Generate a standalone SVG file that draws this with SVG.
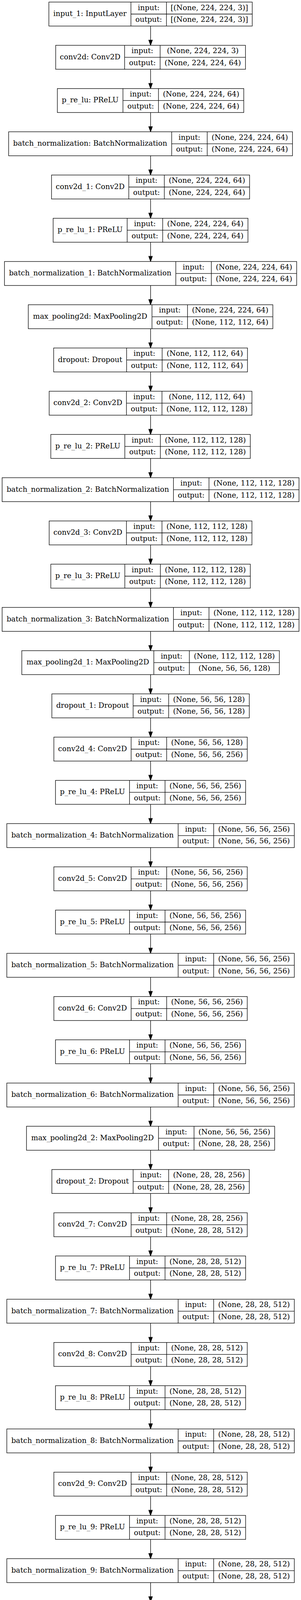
<svg xmlns="http://www.w3.org/2000/svg" width="771" height="6603" viewBox="0 0 771 6603">
<style>
.b{fill:#fff;stroke:#000;stroke-width:1.33}
.d{fill:none;stroke:#000;stroke-width:1.33}
.e{fill:none;stroke:#000;stroke-width:1.33}
text{font-family:"DejaVu Serif",serif;font-size:18.67px;text-anchor:middle;fill:#000}
</style>
<defs>
<marker id="ah" markerUnits="userSpaceOnUse" markerWidth="15" markerHeight="12" refX="0" refY="0" orient="auto" overflow="visible"><path d="M0,-4.67L13.33,0L0,4.67z" fill="#000" stroke="#000" stroke-width="1.33"/></marker>
</defs>
<rect width="771" height="6603" fill="#fff"/>
<g id="edges">
<path class="e" marker-end="url(#ah)" d="M385.67,66.66V102.69"/>
<path class="e" marker-end="url(#ah)" d="M385.67,177.35V213.38"/>
<path class="e" marker-end="url(#ah)" d="M385.67,288.04V324.07"/>
<path class="e" marker-end="url(#ah)" d="M385.67,398.73V434.76"/>
<path class="e" marker-end="url(#ah)" d="M385.67,509.42V545.45"/>
<path class="e" marker-end="url(#ah)" d="M385.67,620.11V656.14"/>
<path class="e" marker-end="url(#ah)" d="M385.67,730.8V766.83"/>
<path class="e" marker-end="url(#ah)" d="M385.67,841.49V877.52"/>
<path class="e" marker-end="url(#ah)" d="M385.67,952.18V988.21"/>
<path class="e" marker-end="url(#ah)" d="M385.67,1062.87V1098.9"/>
<path class="e" marker-end="url(#ah)" d="M385.67,1173.56V1209.59"/>
<path class="e" marker-end="url(#ah)" d="M385.67,1284.25V1320.28"/>
<path class="e" marker-end="url(#ah)" d="M385.67,1394.94V1430.97"/>
<path class="e" marker-end="url(#ah)" d="M385.67,1505.63V1541.66"/>
<path class="e" marker-end="url(#ah)" d="M385.67,1616.32V1652.35"/>
<path class="e" marker-end="url(#ah)" d="M385.67,1727.01V1763.04"/>
<path class="e" marker-end="url(#ah)" d="M385.67,1837.7V1873.73"/>
<path class="e" marker-end="url(#ah)" d="M385.67,1948.39V1984.42"/>
<path class="e" marker-end="url(#ah)" d="M385.67,2059.08V2095.11"/>
<path class="e" marker-end="url(#ah)" d="M385.67,2169.77V2205.8"/>
<path class="e" marker-end="url(#ah)" d="M385.67,2280.46V2316.49"/>
<path class="e" marker-end="url(#ah)" d="M385.67,2391.15V2427.18"/>
<path class="e" marker-end="url(#ah)" d="M385.67,2501.84V2537.87"/>
<path class="e" marker-end="url(#ah)" d="M385.67,2612.53V2648.56"/>
<path class="e" marker-end="url(#ah)" d="M385.67,2723.22V2759.25"/>
<path class="e" marker-end="url(#ah)" d="M385.67,2833.91V2869.94"/>
<path class="e" marker-end="url(#ah)" d="M385.67,2944.6V2980.63"/>
<path class="e" marker-end="url(#ah)" d="M385.67,3055.29V3091.32"/>
<path class="e" marker-end="url(#ah)" d="M385.67,3165.98V3202.01"/>
<path class="e" marker-end="url(#ah)" d="M385.67,3276.67V3312.7"/>
<path class="e" marker-end="url(#ah)" d="M385.67,3387.36V3423.39"/>
<path class="e" marker-end="url(#ah)" d="M385.67,3498.05V3534.08"/>
<path class="e" marker-end="url(#ah)" d="M385.67,3608.74V3644.77"/>
<path class="e" marker-end="url(#ah)" d="M385.67,3719.43V3755.46"/>
<path class="e" marker-end="url(#ah)" d="M385.67,3830.12V3866.15"/>
<path class="e" marker-end="url(#ah)" d="M385.67,3940.81V3976.84"/>
<path class="e" marker-end="url(#ah)" d="M385.67,4051.5V4087.53"/>
<path class="e" marker-end="url(#ah)" d="M385.67,4162.19V4198.22"/>
<path class="e" marker-end="url(#ah)" d="M385.67,4272.88V4308.91"/>
<path class="e" marker-end="url(#ah)" d="M385.67,4383.57V4419.6"/>
<path class="e" marker-end="url(#ah)" d="M385.67,4494.26V4530.29"/>
<path class="e" marker-end="url(#ah)" d="M385.67,4604.95V4640.98"/>
<path class="e" marker-end="url(#ah)" d="M385.67,4715.64V4751.67"/>
<path class="e" marker-end="url(#ah)" d="M385.67,4826.33V4862.36"/>
<path class="e" marker-end="url(#ah)" d="M385.67,4937.02V4973.05"/>
<path class="e" marker-end="url(#ah)" d="M385.67,5047.71V5083.74"/>
<path class="e" marker-end="url(#ah)" d="M385.67,5158.4V5194.43"/>
<path class="e" marker-end="url(#ah)" d="M385.67,5269.09V5305.12"/>
<path class="e" marker-end="url(#ah)" d="M385.67,5379.78V5415.81"/>
<path class="e" marker-end="url(#ah)" d="M385.67,5490.47V5526.5"/>
<path class="e" marker-end="url(#ah)" d="M385.67,5601.16V5637.19"/>
<path class="e" marker-end="url(#ah)" d="M385.67,5711.85V5747.88"/>
<path class="e" marker-end="url(#ah)" d="M385.67,5822.54V5858.57"/>
<path class="e" marker-end="url(#ah)" d="M385.67,5933.23V5969.26"/>
<path class="e" marker-end="url(#ah)" d="M385.67,6043.92V6079.95"/>
<path class="e" marker-end="url(#ah)" d="M385.67,6154.61V6190.64"/>
<path class="e" marker-end="url(#ah)" d="M385.67,6265.3V6301.33"/>
<path class="e" marker-end="url(#ah)" d="M385.67,6375.99V6412.02"/>
<path class="e" marker-end="url(#ah)" d="M385.67,6486.68V6522.71"/>
</g>

<g id="input_1" transform="translate(0,5.33)"><rect class="b" x="125.22" y="0" width="520.9" height="61.33"/><path class="d" d="M335.42,0V61.33M426.42,0V61.33M335.42,30.67H646.12"/><text x="230.32" y="35.7">input_1: InputLayer</text><text x="380.92" y="20.3">input:</text><text x="380.92" y="51">output:</text><text x="536.27" y="20.3">[(None, 224, 224, 3)]</text><text x="536.27" y="51">[(None, 224, 224, 3)]</text></g>

<g id="conv2d" transform="translate(0,116.02)"><rect class="b" x="142.62" y="0" width="486.1" height="61.33"/><path class="d" d="M319.22,0V61.33M410.22,0V61.33M319.22,30.67H628.72"/><text x="230.92" y="35.7">conv2d: Conv2D</text><text x="364.72" y="20.3">input:</text><text x="364.72" y="51">output:</text><text x="519.47" y="20.3">(None, 224, 224, 3)</text><text x="519.47" y="51">(None, 224, 224, 64)</text></g>

<g id="p_re_lu" transform="translate(0,226.71)"><rect class="b" x="146.92" y="0" width="477.5" height="61.33"/><path class="d" d="M314.92,0V61.33M405.92,0V61.33M314.92,30.67H624.42"/><text x="230.92" y="35.7">p_re_lu: PReLU</text><text x="360.42" y="20.3">input:</text><text x="360.42" y="51">output:</text><text x="515.17" y="20.3">(None, 224, 224, 64)</text><text x="515.17" y="51">(None, 224, 224, 64)</text></g>

<g id="batch_normalization" transform="translate(0,337.4)"><rect class="b" x="22.12" y="0" width="727.1" height="61.33"/><path class="d" d="M439.72,0V61.33M530.72,0V61.33M439.72,30.67H749.22"/><text x="230.92" y="35.7">batch_normalization: BatchNormalization</text><text x="485.22" y="20.3">input:</text><text x="485.22" y="51">output:</text><text x="639.97" y="20.3">(None, 224, 224, 64)</text><text x="639.97" y="51">(None, 224, 224, 64)</text></g>

<g id="conv2d_1" transform="translate(0,448.09)"><rect class="b" x="131.97" y="0" width="507.4" height="61.33"/><path class="d" d="M329.87,0V61.33M420.87,0V61.33M329.87,30.67H639.37"/><text x="230.92" y="35.7">conv2d_1: Conv2D</text><text x="375.37" y="20.3">input:</text><text x="375.37" y="51">output:</text><text x="530.12" y="20.3">(None, 224, 224, 64)</text><text x="530.12" y="51">(None, 224, 224, 64)</text></g>

<g id="p_re_lu_1" transform="translate(0,558.78)"><rect class="b" x="136.17" y="0" width="499" height="61.33"/><path class="d" d="M325.67,0V61.33M416.67,0V61.33M325.67,30.67H635.17"/><text x="230.92" y="35.7">p_re_lu_1: PReLU</text><text x="371.17" y="20.3">input:</text><text x="371.17" y="51">output:</text><text x="525.92" y="20.3">(None, 224, 224, 64)</text><text x="525.92" y="51">(None, 224, 224, 64)</text></g>

<g id="batch_normalization_1" transform="translate(0,669.47)"><rect class="b" x="11.47" y="0" width="748.4" height="61.33"/><path class="d" d="M450.37,0V61.33M541.37,0V61.33M450.37,30.67H759.87"/><text x="230.92" y="35.7">batch_normalization_1: BatchNormalization</text><text x="495.87" y="20.3">input:</text><text x="495.87" y="51">output:</text><text x="650.62" y="20.3">(None, 224, 224, 64)</text><text x="650.62" y="51">(None, 224, 224, 64)</text></g>

<g id="max_pooling2d" transform="translate(0,780.16)"><rect class="b" x="72.47" y="0" width="626.4" height="61.33"/><path class="d" d="M389.37,0V61.33M480.37,0V61.33M389.37,30.67H698.87"/><text x="230.92" y="35.7">max_pooling2d: MaxPooling2D</text><text x="434.87" y="20.3">input:</text><text x="434.87" y="51">output:</text><text x="589.62" y="20.3">(None, 224, 224, 64)</text><text x="589.62" y="51">(None, 112, 112, 64)</text></g>

<g id="dropout" transform="translate(0,890.85)"><rect class="b" x="137.47" y="0" width="496.4" height="61.33"/><path class="d" d="M324.37,0V61.33M415.37,0V61.33M324.37,30.67H633.87"/><text x="230.92" y="35.7">dropout: Dropout</text><text x="369.87" y="20.3">input:</text><text x="369.87" y="51">output:</text><text x="524.62" y="20.3">(None, 112, 112, 64)</text><text x="524.62" y="51">(None, 112, 112, 64)</text></g>

<g id="conv2d_2" transform="translate(0,1001.54)"><rect class="b" x="125.97" y="0" width="519.4" height="61.33"/><path class="d" d="M323.87,0V61.33M414.87,0V61.33M323.87,30.67H645.37"/><text x="224.92" y="35.7">conv2d_2: Conv2D</text><text x="369.37" y="20.3">input:</text><text x="369.37" y="51">output:</text><text x="530.12" y="20.3">(None, 112, 112, 64)</text><text x="530.12" y="51">(None, 112, 112, 128)</text></g>

<g id="p_re_lu_2" transform="translate(0,1112.23)"><rect class="b" x="130.17" y="0" width="511" height="61.33"/><path class="d" d="M319.67,0V61.33M410.67,0V61.33M319.67,30.67H641.17"/><text x="224.92" y="35.7">p_re_lu_2: PReLU</text><text x="365.17" y="20.3">input:</text><text x="365.17" y="51">output:</text><text x="525.92" y="20.3">(None, 112, 112, 128)</text><text x="525.92" y="51">(None, 112, 112, 128)</text></g>

<g id="batch_normalization_2" transform="translate(0,1222.92)"><rect class="b" x="5.47" y="0" width="760.4" height="61.33"/><path class="d" d="M444.37,0V61.33M535.37,0V61.33M444.37,30.67H765.87"/><text x="224.92" y="35.7">batch_normalization_2: BatchNormalization</text><text x="489.87" y="20.3">input:</text><text x="489.87" y="51">output:</text><text x="650.62" y="20.3">(None, 112, 112, 128)</text><text x="650.62" y="51">(None, 112, 112, 128)</text></g>

<g id="conv2d_3" transform="translate(0,1333.61)"><rect class="b" x="125.97" y="0" width="519.4" height="61.33"/><path class="d" d="M323.87,0V61.33M414.87,0V61.33M323.87,30.67H645.37"/><text x="224.92" y="35.7">conv2d_3: Conv2D</text><text x="369.37" y="20.3">input:</text><text x="369.37" y="51">output:</text><text x="530.12" y="20.3">(None, 112, 112, 128)</text><text x="530.12" y="51">(None, 112, 112, 128)</text></g>

<g id="p_re_lu_3" transform="translate(0,1444.3)"><rect class="b" x="130.17" y="0" width="511" height="61.33"/><path class="d" d="M319.67,0V61.33M410.67,0V61.33M319.67,30.67H641.17"/><text x="224.92" y="35.7">p_re_lu_3: PReLU</text><text x="365.17" y="20.3">input:</text><text x="365.17" y="51">output:</text><text x="525.92" y="20.3">(None, 112, 112, 128)</text><text x="525.92" y="51">(None, 112, 112, 128)</text></g>

<g id="batch_normalization_3" transform="translate(0,1554.99)"><rect class="b" x="5.47" y="0" width="760.4" height="61.33"/><path class="d" d="M444.37,0V61.33M535.37,0V61.33M444.37,30.67H765.87"/><text x="224.92" y="35.7">batch_normalization_3: BatchNormalization</text><text x="489.87" y="20.3">input:</text><text x="489.87" y="51">output:</text><text x="650.62" y="20.3">(None, 112, 112, 128)</text><text x="650.62" y="51">(None, 112, 112, 128)</text></g>

<g id="max_pooling2d_1" transform="translate(0,1665.68)"><rect class="b" x="55.82" y="0" width="659.7" height="61.33"/><path class="d" d="M394.02,0V61.33M485.02,0V61.33M394.02,30.67H715.52"/><text x="224.92" y="35.7">max_pooling2d_1: MaxPooling2D</text><text x="439.52" y="20.3">input:</text><text x="439.52" y="51">output:</text><text x="600.27" y="20.3">(None, 112, 112, 128)</text><text x="600.27" y="51">(None, 56, 56, 128)</text></g>

<g id="dropout_1" transform="translate(0,1776.37)"><rect class="b" x="132.82" y="0" width="505.7" height="61.33"/><path class="d" d="M341.02,0V61.33M432.02,0V61.33M341.02,30.67H638.52"/><text x="236.92" y="35.7">dropout_1: Dropout</text><text x="386.52" y="20.3">input:</text><text x="386.52" y="51">output:</text><text x="535.27" y="20.3">(None, 56, 56, 128)</text><text x="535.27" y="51">(None, 56, 56, 128)</text></g>

<g id="conv2d_4" transform="translate(0,1887.06)"><rect class="b" x="137.97" y="0" width="495.4" height="61.33"/><path class="d" d="M335.87,0V61.33M426.87,0V61.33M335.87,30.67H633.37"/><text x="236.92" y="35.7">conv2d_4: Conv2D</text><text x="381.37" y="20.3">input:</text><text x="381.37" y="51">output:</text><text x="530.12" y="20.3">(None, 56, 56, 128)</text><text x="530.12" y="51">(None, 56, 56, 256)</text></g>

<g id="p_re_lu_4" transform="translate(0,1997.75)"><rect class="b" x="142.17" y="0" width="487" height="61.33"/><path class="d" d="M331.67,0V61.33M422.67,0V61.33M331.67,30.67H629.17"/><text x="236.92" y="35.7">p_re_lu_4: PReLU</text><text x="377.17" y="20.3">input:</text><text x="377.17" y="51">output:</text><text x="525.92" y="20.3">(None, 56, 56, 256)</text><text x="525.92" y="51">(None, 56, 56, 256)</text></g>

<g id="batch_normalization_4" transform="translate(0,2108.44)"><rect class="b" x="17.47" y="0" width="736.4" height="61.33"/><path class="d" d="M456.37,0V61.33M547.37,0V61.33M456.37,30.67H753.87"/><text x="236.92" y="35.7">batch_normalization_4: BatchNormalization</text><text x="501.87" y="20.3">input:</text><text x="501.87" y="51">output:</text><text x="650.62" y="20.3">(None, 56, 56, 256)</text><text x="650.62" y="51">(None, 56, 56, 256)</text></g>

<g id="conv2d_5" transform="translate(0,2219.13)"><rect class="b" x="137.97" y="0" width="495.4" height="61.33"/><path class="d" d="M335.87,0V61.33M426.87,0V61.33M335.87,30.67H633.37"/><text x="236.92" y="35.7">conv2d_5: Conv2D</text><text x="381.37" y="20.3">input:</text><text x="381.37" y="51">output:</text><text x="530.12" y="20.3">(None, 56, 56, 256)</text><text x="530.12" y="51">(None, 56, 56, 256)</text></g>

<g id="p_re_lu_5" transform="translate(0,2329.82)"><rect class="b" x="142.17" y="0" width="487" height="61.33"/><path class="d" d="M331.67,0V61.33M422.67,0V61.33M331.67,30.67H629.17"/><text x="236.92" y="35.7">p_re_lu_5: PReLU</text><text x="377.17" y="20.3">input:</text><text x="377.17" y="51">output:</text><text x="525.92" y="20.3">(None, 56, 56, 256)</text><text x="525.92" y="51">(None, 56, 56, 256)</text></g>

<g id="batch_normalization_5" transform="translate(0,2440.51)"><rect class="b" x="17.47" y="0" width="736.4" height="61.33"/><path class="d" d="M456.37,0V61.33M547.37,0V61.33M456.37,30.67H753.87"/><text x="236.92" y="35.7">batch_normalization_5: BatchNormalization</text><text x="501.87" y="20.3">input:</text><text x="501.87" y="51">output:</text><text x="650.62" y="20.3">(None, 56, 56, 256)</text><text x="650.62" y="51">(None, 56, 56, 256)</text></g>

<g id="conv2d_6" transform="translate(0,2551.2)"><rect class="b" x="137.97" y="0" width="495.4" height="61.33"/><path class="d" d="M335.87,0V61.33M426.87,0V61.33M335.87,30.67H633.37"/><text x="236.92" y="35.7">conv2d_6: Conv2D</text><text x="381.37" y="20.3">input:</text><text x="381.37" y="51">output:</text><text x="530.12" y="20.3">(None, 56, 56, 256)</text><text x="530.12" y="51">(None, 56, 56, 256)</text></g>

<g id="p_re_lu_6" transform="translate(0,2661.89)"><rect class="b" x="142.17" y="0" width="487" height="61.33"/><path class="d" d="M331.67,0V61.33M422.67,0V61.33M331.67,30.67H629.17"/><text x="236.92" y="35.7">p_re_lu_6: PReLU</text><text x="377.17" y="20.3">input:</text><text x="377.17" y="51">output:</text><text x="525.92" y="20.3">(None, 56, 56, 256)</text><text x="525.92" y="51">(None, 56, 56, 256)</text></g>

<g id="batch_normalization_6" transform="translate(0,2772.58)"><rect class="b" x="17.47" y="0" width="736.4" height="61.33"/><path class="d" d="M456.37,0V61.33M547.37,0V61.33M456.37,30.67H753.87"/><text x="236.92" y="35.7">batch_normalization_6: BatchNormalization</text><text x="501.87" y="20.3">input:</text><text x="501.87" y="51">output:</text><text x="650.62" y="20.3">(None, 56, 56, 256)</text><text x="650.62" y="51">(None, 56, 56, 256)</text></g>

<g id="max_pooling2d_2" transform="translate(0,2883.27)"><rect class="b" x="67.82" y="0" width="635.7" height="61.33"/><path class="d" d="M406.02,0V61.33M497.02,0V61.33M406.02,30.67H703.52"/><text x="236.92" y="35.7">max_pooling2d_2: MaxPooling2D</text><text x="451.52" y="20.3">input:</text><text x="451.52" y="51">output:</text><text x="600.27" y="20.3">(None, 56, 56, 256)</text><text x="600.27" y="51">(None, 28, 28, 256)</text></g>

<g id="dropout_2" transform="translate(0,2993.96)"><rect class="b" x="132.82" y="0" width="505.7" height="61.33"/><path class="d" d="M341.02,0V61.33M432.02,0V61.33M341.02,30.67H638.52"/><text x="236.92" y="35.7">dropout_2: Dropout</text><text x="386.52" y="20.3">input:</text><text x="386.52" y="51">output:</text><text x="535.27" y="20.3">(None, 28, 28, 256)</text><text x="535.27" y="51">(None, 28, 28, 256)</text></g>

<g id="conv2d_7" transform="translate(0,3104.65)"><rect class="b" x="137.97" y="0" width="495.4" height="61.33"/><path class="d" d="M335.87,0V61.33M426.87,0V61.33M335.87,30.67H633.37"/><text x="236.92" y="35.7">conv2d_7: Conv2D</text><text x="381.37" y="20.3">input:</text><text x="381.37" y="51">output:</text><text x="530.12" y="20.3">(None, 28, 28, 256)</text><text x="530.12" y="51">(None, 28, 28, 512)</text></g>

<g id="p_re_lu_7" transform="translate(0,3215.34)"><rect class="b" x="142.17" y="0" width="487" height="61.33"/><path class="d" d="M331.67,0V61.33M422.67,0V61.33M331.67,30.67H629.17"/><text x="236.92" y="35.7">p_re_lu_7: PReLU</text><text x="377.17" y="20.3">input:</text><text x="377.17" y="51">output:</text><text x="525.92" y="20.3">(None, 28, 28, 512)</text><text x="525.92" y="51">(None, 28, 28, 512)</text></g>

<g id="batch_normalization_7" transform="translate(0,3326.03)"><rect class="b" x="17.47" y="0" width="736.4" height="61.33"/><path class="d" d="M456.37,0V61.33M547.37,0V61.33M456.37,30.67H753.87"/><text x="236.92" y="35.7">batch_normalization_7: BatchNormalization</text><text x="501.87" y="20.3">input:</text><text x="501.87" y="51">output:</text><text x="650.62" y="20.3">(None, 28, 28, 512)</text><text x="650.62" y="51">(None, 28, 28, 512)</text></g>

<g id="conv2d_8" transform="translate(0,3436.72)"><rect class="b" x="137.97" y="0" width="495.4" height="61.33"/><path class="d" d="M335.87,0V61.33M426.87,0V61.33M335.87,30.67H633.37"/><text x="236.92" y="35.7">conv2d_8: Conv2D</text><text x="381.37" y="20.3">input:</text><text x="381.37" y="51">output:</text><text x="530.12" y="20.3">(None, 28, 28, 512)</text><text x="530.12" y="51">(None, 28, 28, 512)</text></g>

<g id="p_re_lu_8" transform="translate(0,3547.41)"><rect class="b" x="142.17" y="0" width="487" height="61.33"/><path class="d" d="M331.67,0V61.33M422.67,0V61.33M331.67,30.67H629.17"/><text x="236.92" y="35.7">p_re_lu_8: PReLU</text><text x="377.17" y="20.3">input:</text><text x="377.17" y="51">output:</text><text x="525.92" y="20.3">(None, 28, 28, 512)</text><text x="525.92" y="51">(None, 28, 28, 512)</text></g>

<g id="batch_normalization_8" transform="translate(0,3658.1)"><rect class="b" x="17.47" y="0" width="736.4" height="61.33"/><path class="d" d="M456.37,0V61.33M547.37,0V61.33M456.37,30.67H753.87"/><text x="236.92" y="35.7">batch_normalization_8: BatchNormalization</text><text x="501.87" y="20.3">input:</text><text x="501.87" y="51">output:</text><text x="650.62" y="20.3">(None, 28, 28, 512)</text><text x="650.62" y="51">(None, 28, 28, 512)</text></g>

<g id="conv2d_9" transform="translate(0,3768.79)"><rect class="b" x="137.97" y="0" width="495.4" height="61.33"/><path class="d" d="M335.87,0V61.33M426.87,0V61.33M335.87,30.67H633.37"/><text x="236.92" y="35.7">conv2d_9: Conv2D</text><text x="381.37" y="20.3">input:</text><text x="381.37" y="51">output:</text><text x="530.12" y="20.3">(None, 28, 28, 512)</text><text x="530.12" y="51">(None, 28, 28, 512)</text></g>

<g id="p_re_lu_9" transform="translate(0,3879.48)"><rect class="b" x="142.17" y="0" width="487" height="61.33"/><path class="d" d="M331.67,0V61.33M422.67,0V61.33M331.67,30.67H629.17"/><text x="236.92" y="35.7">p_re_lu_9: PReLU</text><text x="377.17" y="20.3">input:</text><text x="377.17" y="51">output:</text><text x="525.92" y="20.3">(None, 28, 28, 512)</text><text x="525.92" y="51">(None, 28, 28, 512)</text></g>

<g id="batch_normalization_9" transform="translate(0,3990.17)"><rect class="b" x="17.47" y="0" width="736.4" height="61.33"/><path class="d" d="M456.37,0V61.33M547.37,0V61.33M456.37,30.67H753.87"/><text x="236.92" y="35.7">batch_normalization_9: BatchNormalization</text><text x="501.87" y="20.3">input:</text><text x="501.87" y="51">output:</text><text x="650.62" y="20.3">(None, 28, 28, 512)</text><text x="650.62" y="51">(None, 28, 28, 512)</text></g>

<g id="max_pooling2d_3" transform="translate(0,4100.86)"><rect class="b" x="67.82" y="0" width="635.7" height="61.33"/><path class="d" d="M406.02,0V61.33M497.02,0V61.33M406.02,30.67H703.52"/><text x="236.92" y="35.7">max_pooling2d_3: MaxPooling2D</text><text x="451.52" y="20.3">input:</text><text x="451.52" y="51">output:</text><text x="600.27" y="20.3">(None, 28, 28, 512)</text><text x="600.27" y="51">(None, 14, 14, 512)</text></g>

<g id="dropout_3" transform="translate(0,4211.55)"><rect class="b" x="132.82" y="0" width="505.7" height="61.33"/><path class="d" d="M341.02,0V61.33M432.02,0V61.33M341.02,30.67H638.52"/><text x="236.92" y="35.7">dropout_3: Dropout</text><text x="386.52" y="20.3">input:</text><text x="386.52" y="51">output:</text><text x="535.27" y="20.3">(None, 14, 14, 512)</text><text x="535.27" y="51">(None, 14, 14, 512)</text></g>

<g id="conv2d_10" transform="translate(0,4322.24)"><rect class="b" x="132.02" y="0" width="507.3" height="61.33"/><path class="d" d="M341.82,0V61.33M432.82,0V61.33M341.82,30.67H639.32"/><text x="236.92" y="35.7">conv2d_10: Conv2D</text><text x="387.32" y="20.3">input:</text><text x="387.32" y="51">output:</text><text x="536.07" y="20.3">(None, 14, 14, 512)</text><text x="536.07" y="51">(None, 14, 14, 512)</text></g>

<g id="p_re_lu_10" transform="translate(0,4432.93)"><rect class="b" x="136.17" y="0" width="499" height="61.33"/><path class="d" d="M337.67,0V61.33M428.67,0V61.33M337.67,30.67H635.17"/><text x="236.92" y="35.7">p_re_lu_10: PReLU</text><text x="383.17" y="20.3">input:</text><text x="383.17" y="51">output:</text><text x="531.92" y="20.3">(None, 14, 14, 512)</text><text x="531.92" y="51">(None, 14, 14, 512)</text></g>

<g id="batch_normalization_10" transform="translate(0,4543.62)"><rect class="b" x="11.47" y="0" width="748.4" height="61.33"/><path class="d" d="M462.37,0V61.33M553.37,0V61.33M462.37,30.67H759.87"/><text x="236.92" y="35.7">batch_normalization_10: BatchNormalization</text><text x="507.87" y="20.3">input:</text><text x="507.87" y="51">output:</text><text x="656.62" y="20.3">(None, 14, 14, 512)</text><text x="656.62" y="51">(None, 14, 14, 512)</text></g>

<g id="conv2d_11" transform="translate(0,4654.31)"><rect class="b" x="132.02" y="0" width="507.3" height="61.33"/><path class="d" d="M341.82,0V61.33M432.82,0V61.33M341.82,30.67H639.32"/><text x="236.92" y="35.7">conv2d_11: Conv2D</text><text x="387.32" y="20.3">input:</text><text x="387.32" y="51">output:</text><text x="536.07" y="20.3">(None, 14, 14, 512)</text><text x="536.07" y="51">(None, 14, 14, 512)</text></g>

<g id="p_re_lu_11" transform="translate(0,4765)"><rect class="b" x="136.17" y="0" width="499" height="61.33"/><path class="d" d="M337.67,0V61.33M428.67,0V61.33M337.67,30.67H635.17"/><text x="236.92" y="35.7">p_re_lu_11: PReLU</text><text x="383.17" y="20.3">input:</text><text x="383.17" y="51">output:</text><text x="531.92" y="20.3">(None, 14, 14, 512)</text><text x="531.92" y="51">(None, 14, 14, 512)</text></g>

<g id="batch_normalization_11" transform="translate(0,4875.69)"><rect class="b" x="11.47" y="0" width="748.4" height="61.33"/><path class="d" d="M462.37,0V61.33M553.37,0V61.33M462.37,30.67H759.87"/><text x="236.92" y="35.7">batch_normalization_11: BatchNormalization</text><text x="507.87" y="20.3">input:</text><text x="507.87" y="51">output:</text><text x="656.62" y="20.3">(None, 14, 14, 512)</text><text x="656.62" y="51">(None, 14, 14, 512)</text></g>

<g id="conv2d_12" transform="translate(0,4986.38)"><rect class="b" x="132.02" y="0" width="507.3" height="61.33"/><path class="d" d="M341.82,0V61.33M432.82,0V61.33M341.82,30.67H639.32"/><text x="236.92" y="35.7">conv2d_12: Conv2D</text><text x="387.32" y="20.3">input:</text><text x="387.32" y="51">output:</text><text x="536.07" y="20.3">(None, 14, 14, 512)</text><text x="536.07" y="51">(None, 14, 14, 512)</text></g>

<g id="p_re_lu_12" transform="translate(0,5097.07)"><rect class="b" x="136.17" y="0" width="499" height="61.33"/><path class="d" d="M337.67,0V61.33M428.67,0V61.33M337.67,30.67H635.17"/><text x="236.92" y="35.7">p_re_lu_12: PReLU</text><text x="383.17" y="20.3">input:</text><text x="383.17" y="51">output:</text><text x="531.92" y="20.3">(None, 14, 14, 512)</text><text x="531.92" y="51">(None, 14, 14, 512)</text></g>

<g id="batch_normalization_12" transform="translate(0,5207.76)"><rect class="b" x="11.47" y="0" width="748.4" height="61.33"/><path class="d" d="M462.37,0V61.33M553.37,0V61.33M462.37,30.67H759.87"/><text x="236.92" y="35.7">batch_normalization_12: BatchNormalization</text><text x="507.87" y="20.3">input:</text><text x="507.87" y="51">output:</text><text x="656.62" y="20.3">(None, 14, 14, 512)</text><text x="656.62" y="51">(None, 14, 14, 512)</text></g>

<g id="max_pooling2d_4" transform="translate(0,5318.45)"><rect class="b" x="67.82" y="0" width="635.7" height="61.33"/><path class="d" d="M406.02,0V61.33M497.02,0V61.33M406.02,30.67H703.52"/><text x="236.92" y="35.7">max_pooling2d_4: MaxPooling2D</text><text x="451.52" y="20.3">input:</text><text x="451.52" y="51">output:</text><text x="600.27" y="20.3">(None, 14, 14, 512)</text><text x="600.27" y="51">(None, 7, 7, 512)</text></g>

<g id="dropout_4" transform="translate(0,5429.14)"><rect class="b" x="144.87" y="0" width="481.6" height="61.33"/><path class="d" d="M353.07,0V61.33M444.07,0V61.33M353.07,30.67H626.47"/><text x="248.97" y="35.7">dropout_4: Dropout</text><text x="398.57" y="20.3">input:</text><text x="398.57" y="51">output:</text><text x="535.27" y="20.3">(None, 7, 7, 512)</text><text x="535.27" y="51">(None, 7, 7, 512)</text></g>

<g id="flatten" transform="translate(0,5539.83)"><rect class="b" x="166.32" y="0" width="438.7" height="61.33"/><path class="d" d="M331.62,0V61.33M422.62,0V61.33M331.62,30.67H605.02"/><text x="248.97" y="35.7">flatten: Flatten</text><text x="377.12" y="20.3">input:</text><text x="377.12" y="51">output:</text><text x="513.82" y="20.3">(None, 7, 7, 512)</text><text x="513.82" y="51">(None, 25088)</text></g>

<g id="dense" transform="translate(0,5650.52)"><rect class="b" x="186.77" y="0" width="397.8" height="61.33"/><path class="d" d="M335.17,0V61.33M426.17,0V61.33M335.17,30.67H584.57"/><text x="260.97" y="35.7">dense: Dense</text><text x="380.67" y="20.3">input:</text><text x="380.67" y="51">output:</text><text x="505.37" y="20.3">(None, 25088)</text><text x="505.37" y="51">(None, 4096)</text></g>

<g id="p_re_lu_13" transform="translate(0,5761.21)"><rect class="b" x="166.22" y="0" width="438.9" height="61.33"/><path class="d" d="M367.72,0V61.33M458.72,0V61.33M367.72,30.67H605.12"/><text x="266.97" y="35.7">p_re_lu_13: PReLU</text><text x="413.22" y="20.3">input:</text><text x="413.22" y="51">output:</text><text x="531.92" y="20.3">(None, 4096)</text><text x="531.92" y="51">(None, 4096)</text></g>

<g id="batch_normalization_13" transform="translate(0,5871.9)"><rect class="b" x="41.52" y="0" width="688.3" height="61.33"/><path class="d" d="M492.42,0V61.33M583.42,0V61.33M492.42,30.67H729.82"/><text x="266.97" y="35.7">batch_normalization_13: BatchNormalization</text><text x="537.92" y="20.3">input:</text><text x="537.92" y="51">output:</text><text x="656.62" y="20.3">(None, 4096)</text><text x="656.62" y="51">(None, 4096)</text></g>

<g id="dropout_5" transform="translate(0,5982.59)"><rect class="b" x="162.87" y="0" width="445.6" height="61.33"/><path class="d" d="M371.07,0V61.33M462.07,0V61.33M371.07,30.67H608.47"/><text x="266.97" y="35.7">dropout_5: Dropout</text><text x="416.57" y="20.3">input:</text><text x="416.57" y="51">output:</text><text x="535.27" y="20.3">(None, 4096)</text><text x="535.27" y="51">(None, 4096)</text></g>

<g id="dense_1" transform="translate(0,6093.28)"><rect class="b" x="182.12" y="0" width="407.1" height="61.33"/><path class="d" d="M351.82,0V61.33M442.82,0V61.33M351.82,30.67H589.22"/><text x="266.97" y="35.7">dense_1: Dense</text><text x="397.32" y="20.3">input:</text><text x="397.32" y="51">output:</text><text x="516.02" y="20.3">(None, 4096)</text><text x="516.02" y="51">(None, 4096)</text></g>

<g id="p_re_lu_14" transform="translate(0,6203.97)"><rect class="b" x="166.22" y="0" width="438.9" height="61.33"/><path class="d" d="M367.72,0V61.33M458.72,0V61.33M367.72,30.67H605.12"/><text x="266.97" y="35.7">p_re_lu_14: PReLU</text><text x="413.22" y="20.3">input:</text><text x="413.22" y="51">output:</text><text x="531.92" y="20.3">(None, 4096)</text><text x="531.92" y="51">(None, 4096)</text></g>

<g id="batch_normalization_14" transform="translate(0,6314.66)"><rect class="b" x="41.52" y="0" width="688.3" height="61.33"/><path class="d" d="M492.42,0V61.33M583.42,0V61.33M492.42,30.67H729.82"/><text x="266.97" y="35.7">batch_normalization_14: BatchNormalization</text><text x="537.92" y="20.3">input:</text><text x="537.92" y="51">output:</text><text x="656.62" y="20.3">(None, 4096)</text><text x="656.62" y="51">(None, 4096)</text></g>

<g id="dropout_6" transform="translate(0,6425.35)"><rect class="b" x="162.87" y="0" width="445.6" height="61.33"/><path class="d" d="M371.07,0V61.33M462.07,0V61.33M371.07,30.67H608.47"/><text x="266.97" y="35.7">dropout_6: Dropout</text><text x="416.57" y="20.3">input:</text><text x="416.57" y="51">output:</text><text x="535.27" y="20.3">(None, 4096)</text><text x="535.27" y="51">(None, 4096)</text></g>

<g id="dense_2" transform="translate(0,6536.04)"><rect class="b" x="182.12" y="0" width="407.1" height="61.33"/><path class="d" d="M351.82,0V61.33M442.82,0V61.33M351.82,30.67H589.22"/><text x="266.97" y="35.7">dense_2: Dense</text><text x="397.32" y="20.3">input:</text><text x="397.32" y="51">output:</text><text x="516.02" y="20.3">(None, 4096)</text><text x="516.02" y="51">(None, 1000)</text></g>
</svg>
